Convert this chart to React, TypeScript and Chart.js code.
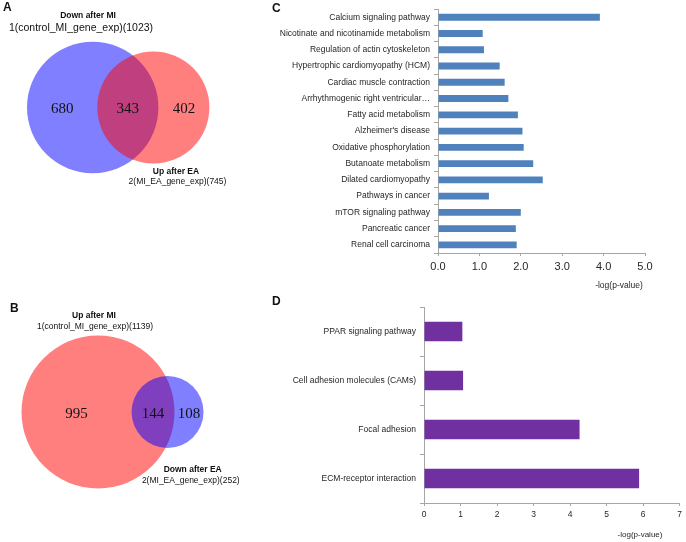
import React, { useEffect, useRef } from "react";
import { Chart, registerables } from "chart.js";

Chart.register(...registerables);

// ---------- Data ----------
// Venn A: [only set 1, shared, only set 2]
const vennASetNames = ["Down after MI", "Up after EA"];
const vennAFileNames = ["control_MI_gene_exp", "MI_EA_gene_exp"];
const vennARegions = [680, 343, 402];

// Venn B: [only set 1, shared, only set 2]
const vennBSetNames = ["Up after MI", "Down after EA"];
const vennBFileNames = ["control_MI_gene_exp", "MI_EA_gene_exp"];
const vennBRegions = [995, 144, 108];

// Panel C
const pathwaysC = [
  "Calcium signaling pathway",
  "Nicotinate and nicotinamide metabolism",
  "Regulation of actin cytoskeleton",
  "Hypertrophic cardiomyopathy (HCM)",
  "Cardiac muscle contraction",
  "Arrhythmogenic right ventricular…",
  "Fatty acid metabolism",
  "Alzheimer's disease",
  "Oxidative phosphorylation",
  "Butanoate metabolism",
  "Dilated cardiomyopathy",
  "Pathways in cancer",
  "mTOR signaling pathway",
  "Pancreatic cancer",
  "Renal cell carcinoma",
];
const valuesC = [3.91, 1.08, 1.11, 1.49, 1.61, 1.7, 1.93, 2.04, 2.07, 2.3, 2.53, 1.23, 2.0, 1.88, 1.9];

// Panel D
const pathwaysD = [
  "PPAR signaling pathway",
  "Cell adhesion molecules (CAMs)",
  "Focal adhesion",
  "ECM-receptor interaction",
];
const valuesD = [1.05, 1.07, 4.26, 5.89];

const axisTitle = "-log(p-value)";

// ---------- Styles ----------
const SANS = "'Liberation Sans', Arial, sans-serif";
const SERIF = "'Liberation Serif', 'Times New Roman', serif";
const AXIS_COLOR = "#a6a6a6";
const TEXT_COLOR = "#262626";
const BLUE_FILL = "rgba(0,0,255,0.5)";
const RED_FILL = "rgba(255,0,0,0.5)";

type TextItem = {
  text: string;
  x: number;
  y: number;
  font: string;
  align?: CanvasTextAlign;
  color?: string;
};

function makeTextPlugin(items: TextItem[]) {
  return {
    id: "panelText",
    afterDraw(chart: any) {
      const ctx = chart.ctx as CanvasRenderingContext2D;
      ctx.save();
      for (const it of items) {
        ctx.font = it.font;
        ctx.fillStyle = it.color || "#111";
        ctx.textAlign = it.align || "center";
        ctx.textBaseline = "middle";
        ctx.fillText(it.text, it.x, it.y);
      }
      ctx.restore();
    },
  };
}

function makeVennNumbersPlugin(regions: number[], radii: number[]) {
  return {
    id: "vennNumbers",
    afterDatasetsDraw(chart: any) {
      const pts = chart.getDatasetMeta(0).data;
      if (!pts || pts.length < 2) return;
      const [p1, p2] = pts;
      const [r1, r2] = radii;
      const l1 = p1.x - r1, rt1 = p1.x + r1;
      const l2 = p2.x - r2, rt2 = p2.x + r2;
      const xs = [(l1 + l2) / 2, (l2 + rt1) / 2, (rt1 + rt2) / 2];
      const ctx = chart.ctx as CanvasRenderingContext2D;
      ctx.save();
      ctx.font = `15px ${SERIF}`;
      ctx.fillStyle = "#111";
      ctx.textAlign = "center";
      ctx.textBaseline = "middle";
      regions.forEach((v, i) => ctx.fillText(String(v), xs[i], (p1.y + p2.y) / 2 + 2));
      ctx.restore();
    },
  };
}

function lensArea(r1: number, r2: number, d: number) {
  if (d >= r1 + r2) return 0;
  if (d <= Math.abs(r1 - r2)) return Math.PI * Math.min(r1, r2) ** 2;
  const a = r1 * r1 * Math.acos((d * d + r1 * r1 - r2 * r2) / (2 * d * r1));
  const b = r2 * r2 * Math.acos((d * d + r2 * r2 - r1 * r1) / (2 * d * r2));
  const c = 0.5 * Math.sqrt((-d + r1 + r2) * (d + r1 - r2) * (d - r1 + r2) * (d + r1 + r2));
  return a + b - c;
}

function solveDistance(r1: number, r2: number, target: number) {
  let lo = Math.abs(r1 - r2);
  let hi = r1 + r2;
  for (let i = 0; i < 60; i++) {
    const mid = (lo + hi) / 2;
    if (lensArea(r1, r2, mid) > target) lo = mid;
    else hi = mid;
  }
  return (lo + hi) / 2;
}

type VennProps = {
  left: number;
  top: number;
  width: number;
  height: number;
  regions: number[];
  colors: string[];
  k: number;
  cx: number;
  cy: number;
  texts: TextItem[];
};

function VennPanel({ left, top, width, height, regions, colors, k, cx, cy, texts }: VennProps) {
  const ref = useRef<HTMLCanvasElement | null>(null);
  useEffect(() => {
    if (!ref.current) return;
    const r1 = k * Math.sqrt(regions[0] + regions[1]);
    const r2 = k * Math.sqrt(regions[1] + regions[2]);
    const d = solveDistance(r1, r2, Math.PI * k * k * regions[1]);
    const chart = new Chart(ref.current, {
      type: "bubble",
      data: {
        datasets: [
          {
            data: [
              { x: cx, y: cy, r: r1 },
              { x: cx + d, y: cy, r: r2 },
            ],
            backgroundColor: colors,
            borderWidth: 0,
            clip: false as any,
          },
        ],
      },
      options: {
        responsive: false,
        animation: false,
        events: [],
        devicePixelRatio: 1,
        layout: { padding: 0, autoPadding: false },
        scales: {
          x: { type: "linear", display: false, min: 0, max: width },
          y: { type: "linear", display: false, min: 0, max: height, reverse: true },
        },
        plugins: { legend: { display: false }, tooltip: { enabled: false } },
      },
      plugins: [makeVennNumbersPlugin(regions, [r1, r2]), makeTextPlugin(texts)],
    } as any);
    return () => chart.destroy();
  }, []);
  return (
    <canvas
      ref={ref}
      width={width}
      height={height}
      style={{ position: "absolute", left, top, width, height }}
    />
  );
}

type BarProps = {
  left: number;
  top: number;
  width: number;
  height: number;
  labels: string[];
  values: number[];
  color: string;
  max: number;
  decimals: number;
  yWidth: number;
  xHeight: number;
  padTop: number;
  padRight: number;
  catPct: number;
  xFontSize: number;
  texts: TextItem[];
};

function BarPanel(p: BarProps) {
  const ref = useRef<HTMLCanvasElement | null>(null);
  useEffect(() => {
    if (!ref.current) return;
    const chart = new Chart(ref.current, {
      type: "bar",
      data: {
        labels: p.labels,
        datasets: [
          {
            data: p.values,
            backgroundColor: p.color,
            borderWidth: 0,
            barPercentage: 1,
            categoryPercentage: p.catPct,
          },
        ],
      },
      options: {
        indexAxis: "y",
        responsive: false,
        animation: false,
        events: [],
        devicePixelRatio: 1,
        layout: { padding: { top: p.padTop, right: p.padRight, left: 0, bottom: 0 } },
        plugins: { legend: { display: false }, tooltip: { enabled: false } },
        scales: {
          x: {
            min: 0,
            max: p.max,
            ticks: {
              stepSize: 1,
              callback: (v: any) => Number(v).toFixed(p.decimals),
              font: { family: SANS, size: p.xFontSize },
              color: TEXT_COLOR,
              padding: 4,
              maxRotation: 0,
            },
            grid: { drawOnChartArea: false, tickLength: 3, color: AXIS_COLOR },
            border: { color: AXIS_COLOR },
            afterFit: (s: any) => {
              s.height = p.xHeight;
            },
          },
          y: {
            ticks: {
              font: { family: SANS, size: 8.5 },
              color: TEXT_COLOR,
              padding: 4,
              autoSkip: false,
            },
            grid: { drawOnChartArea: false, tickLength: 4, offset: true, color: AXIS_COLOR },
            border: { color: AXIS_COLOR },
            afterFit: (s: any) => {
              s.width = p.yWidth;
            },
          },
        },
      },
      plugins: [makeTextPlugin(p.texts)],
    } as any);
    return () => chart.destroy();
  }, []);
  return (
    <canvas
      ref={ref}
      width={p.width}
      height={p.height}
      style={{ position: "absolute", left: p.left, top: p.top, width: p.width, height: p.height }}
    />
  );
}

const totalsA = [vennARegions[0] + vennARegions[1], vennARegions[1] + vennARegions[2]];
const totalsB = [vennBRegions[0] + vennBRegions[1], vennBRegions[1] + vennBRegions[2]];

export default function App() {
  const textsA: TextItem[] = [
    { text: "A", x: 3, y: 8, font: `bold 12px ${SANS}`, align: "left" },
    { text: vennASetNames[0], x: 88, y: 16, font: `bold 8.5px ${SANS}` },
    { text: `1(${vennAFileNames[0]})(${totalsA[0]})`, x: 81, y: 28.5, font: `10.5px ${SANS}` },
    { text: vennASetNames[1], x: 176, y: 171.5, font: `bold 8.5px ${SANS}` },
    { text: `2(${vennAFileNames[1]})(${totalsA[1]})`, x: 177.5, y: 182, font: `8.5px ${SANS}` },
  ];
  const textsB: TextItem[] = [
    { text: "B", x: 10, y: 39, font: `bold 12px ${SANS}`, align: "left" },
    { text: vennBSetNames[0], x: 94, y: 45.7, font: `bold 8.5px ${SANS}` },
    { text: `1(${vennBFileNames[0]})(${totalsB[0]})`, x: 95, y: 56.7, font: `8.5px ${SANS}` },
    { text: vennBSetNames[1], x: 192.7, y: 200, font: `bold 8.5px ${SANS}` },
    { text: `2(${vennBFileNames[1]})(${totalsB[1]})`, x: 190.8, y: 210.7, font: `8.5px ${SANS}` },
  ];
  const textsC: TextItem[] = [
    { text: "C", x: 2, y: 9, font: `bold 12px ${SANS}`, align: "left" },
    { text: axisTitle, x: 349, y: 286, font: `8.5px ${SANS}`, color: TEXT_COLOR },
  ];
  const textsD: TextItem[] = [
    { text: "D", x: 2, y: 7, font: `bold 12px ${SANS}`, align: "left" },
    { text: axisTitle, x: 370, y: 240, font: `8px ${SANS}`, color: TEXT_COLOR },
  ];
  return (
    <div
      style={{
        position: "absolute",
        left: 0,
        top: 0,
        width: 686,
        height: 542,
        background: "#fff",
        overflow: "hidden",
      }}
    >
      <VennPanel
        left={0}
        top={0}
        width={290}
        height={270}
        regions={vennARegions}
        colors={[BLUE_FILL, RED_FILL]}
        k={65.7 / Math.sqrt(1023)}
        cx={92.7}
        cy={107.5}
        texts={textsA}
      />
      <VennPanel
        left={0}
        top={270}
        width={290}
        height={272}
        regions={vennBRegions}
        colors={[RED_FILL, BLUE_FILL]}
        k={76.5 / Math.sqrt(1139)}
        cx={98}
        cy={142}
        texts={textsB}
      />
      <BarPanel
        left={270}
        top={0}
        width={416}
        height={300}
        labels={pathwaysC}
        values={valuesC}
        color="#4f81bd"
        max={5}
        decimals={1}
        yWidth={168}
        xHeight={47}
        padTop={6}
        padRight={41}
        catPct={0.42}
        xFontSize={11}
        texts={textsC}
      />
      <BarPanel
        left={270}
        top={295}
        width={416}
        height={247}
        labels={pathwaysD}
        values={valuesD}
        color="#7030a0"
        max={7}
        decimals={0}
        yWidth={154}
        xHeight={39}
        padTop={12}
        padRight={6}
        catPct={0.4}
        xFontSize={8.5}
        texts={textsD}
      />
    </div>
  );
}
